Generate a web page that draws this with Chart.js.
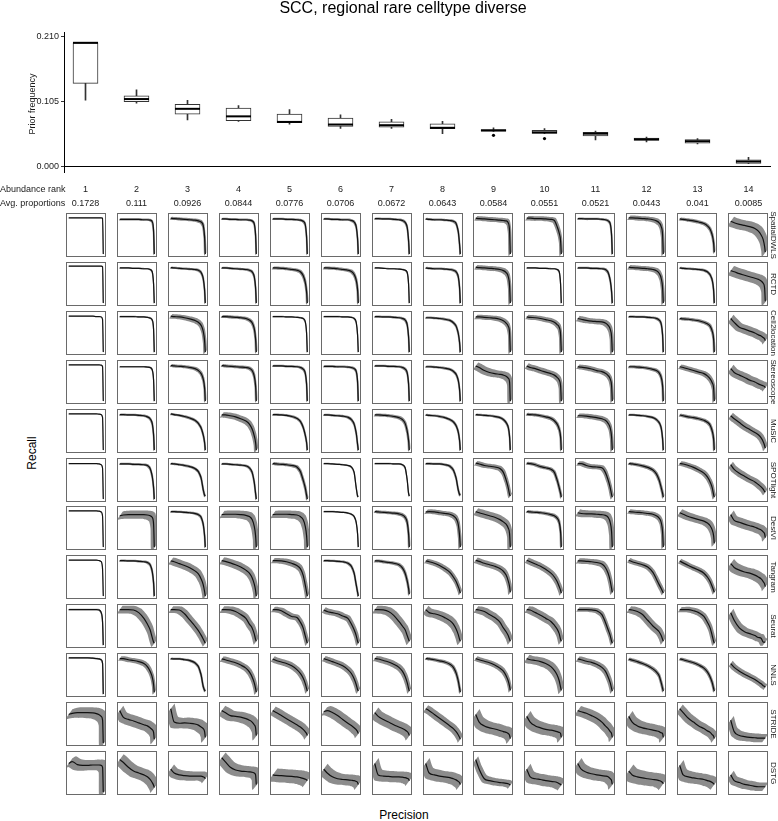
<!DOCTYPE html>
<html><head><meta charset="utf-8">
<script src="https://cdn.jsdelivr.net/npm/chart.js@4/dist/chart.umd.min.js"></script>
<style>
body{margin:0;width:778px;height:821px;position:relative;background:#fff;font-family:"Liberation Sans",Arial,Helvetica,sans-serif;overflow:hidden}
.t{position:absolute;white-space:nowrap;color:#1a1a1a}
.rot{text-align:center;transform-origin:50% 50%}
.panel{position:absolute;width:38px;height:42px;border:1px solid #6a6a6a}
.panel canvas{display:block}
#box{position:absolute;left:0;top:0}
</style></head><body>
<canvas id="box" width="778" height="180" style="width:778px;height:180px"></canvas>
<div class="t" style="left:0;width:806px;top:-1px;text-align:center;font-size:16px;color:#000">SCC, regional rare celltype diverse</div>
<div class="t rot" style="left:-28px;top:98px;width:120px;height:12px;line-height:12px;font-size:9px;transform:rotate(-90deg)">Prior frequency</div>
<div class="t" style="left:0;top:184px;font-size:9px">Abundance rank</div>
<div class="t" style="left:0;top:198px;font-size:9px">Avg. proportions</div>
<div class="t rot" style="left:-8px;top:446px;width:80px;height:14px;line-height:14px;font-size:12px;color:#000;transform:rotate(-90deg)">Recall</div>
<div class="t" style="left:354px;width:100px;top:808px;text-align:center;font-size:12px;color:#000">Precision</div>
<script>
// ---------------- data ----------------
const methods = ['SpatialDWLS','RCTD','Cell2location','Stereoscope','MuSiC','SPOTlight','DestVI','Tangram','Seurat','NNLS','STRIDE','DSTG'];
const abundanceRank = [1,2,3,4,5,6,7,8,9,10,11,12,13,14];
const avgProportions = [0.1728,0.111,0.0926,0.0844,0.0776,0.0706,0.0672,0.0643,0.0584,0.0551,0.0521,0.0443,0.041,0.0085];
const priorTicks = [0, 0.105, 0.21];
const priorQ1 = [0.135,0.1053,0.0852,0.0746,0.0714,0.0651,0.0640,0.0614,0.0576,0.0540,0.0497,0.0424,0.0381,0.0052];
const priorMedian = [0.2005,0.1095,0.0937,0.0815,0.0725,0.0683,0.0672,0.0630,0.0587,0.0556,0.0535,0.0444,0.0413,0.0084];
const priorQ3 = [0.2005,0.1148,0.1011,0.0948,0.0852,0.0789,0.0725,0.0694,0.0603,0.0587,0.0556,0.0465,0.0440,0.0111];
const priorWhiskerLow = [0.1075,0.1027,0.0757,0.0735,0.0688,0.0619,0.0619,0.0535,0.0570,0.0535,0.0433,0.0401,0.0370,0.0048];
const priorWhiskerHigh = [0.2005,0.1243,0.1075,0.0990,0.0926,0.0841,0.0767,0.0735,0.0630,0.0619,0.0576,0.0481,0.0455,0.0154];
const priorOutlierRank = [9,10];
const priorOutlierValue = [0.0508,0.0455];

const precisionGrid = [0,0.1,0.25,0.4,0.55,0.7,0.8,0.88,0.94,0.98,1];

const recallSpatialDWLS = [
[.95,.95,.95,.95,.95,.95,.95,.95,.95,.94,0],
[.91,.91,.91,.91,.91,.9,.9,.89,.85,.6,0],
[.94,.93,.92,.91,.9,.89,.87,.84,.75,.45,0],
[.92,.92,.91,.91,.9,.9,.89,.87,.8,.5,0],
[.92,.92,.92,.91,.91,.9,.89,.86,.78,.45,0],
[.92,.92,.91,.91,.9,.9,.88,.84,.72,.4,0],
[.93,.93,.92,.92,.91,.9,.88,.83,.7,.35,0],
[.92,.91,.9,.9,.89,.88,.86,.8,.6,.25,0],
[.94,.93,.92,.91,.9,.89,.88,.87,.82,.6,0],
[.94,.94,.93,.93,.92,.91,.88,.72,.55,.35,0],
[.93,.93,.92,.92,.92,.91,.9,.87,.8,.5,0],
[.95,.95,.94,.93,.92,.9,.87,.82,.72,.5,0],
[.92,.91,.89,.87,.84,.8,.74,.65,.5,.3,.05],
[.86,.82,.78,.75,.72,.67,.6,.5,.38,.2,.05]];
const ribbonSpatialDWLS = [.01,.03,.04,.03,.03,.03,.03,.03,.06,.06,.03,.06,.04,.12];

const recallRCTD = [
[.97,.97,.97,.97,.97,.97,.97,.97,.97,.95,0],
[.92,.92,.92,.91,.91,.9,.9,.88,.82,.5,0],
[.93,.92,.91,.9,.89,.88,.86,.8,.65,.35,0],
[.92,.92,.91,.9,.89,.88,.86,.82,.7,.4,0],
[.92,.92,.91,.9,.88,.86,.82,.72,.55,.3,0],
[.92,.92,.91,.9,.88,.86,.83,.75,.6,.35,0],
[.92,.92,.91,.9,.9,.89,.88,.86,.8,.5,0],
[.92,.91,.9,.9,.89,.88,.86,.82,.7,.4,0],
[.94,.93,.92,.91,.9,.88,.85,.8,.7,.45,0],
[.92,.92,.92,.91,.91,.9,.9,.88,.82,.5,0],
[.92,.92,.92,.91,.91,.9,.88,.8,.6,.3,0],
[.94,.93,.92,.91,.9,.88,.85,.78,.65,.4,0],
[.92,.91,.9,.89,.88,.86,.82,.74,.6,.35,0],
[.85,.82,.77,.73,.69,.65,.62,.58,.52,.4,.05]];
const ribbonRCTD = [.01,.02,.03,.03,.04,.04,.02,.03,.06,.02,.03,.06,.03,.12];

const recallCell2location = [
[.94,.94,.94,.94,.94,.94,.93,.93,.92,.85,0],
[.93,.93,.93,.93,.92,.92,.91,.89,.84,.6,0],
[.94,.93,.92,.9,.87,.83,.78,.7,.55,.3,0],
[.93,.93,.92,.91,.9,.88,.84,.77,.62,.35,0],
[.93,.93,.93,.92,.92,.91,.9,.88,.8,.5,0],
[.93,.93,.93,.93,.92,.92,.91,.88,.78,.45,0],
[.93,.93,.92,.92,.91,.9,.88,.84,.72,.4,0],
[.9,.9,.89,.88,.86,.83,.77,.68,.5,.25,0],
[.92,.92,.91,.9,.89,.86,.82,.76,.68,.5,0],
[.92,.91,.9,.88,.85,.82,.78,.72,.65,.45,0],
[.88,.86,.83,.81,.8,.79,.76,.7,.6,.4,0],
[.93,.93,.92,.92,.91,.9,.88,.84,.74,.45,0],
[.88,.87,.86,.84,.82,.78,.74,.68,.55,.35,0],
[.88,.78,.65,.6,.55,.5,.45,.42,.38,.35,.3]];
const ribbonCell2location = [.01,.02,.06,.04,.02,.02,.03,.03,.06,.06,.07,.03,.04,.1];

const recallStereoscope = [
[.95,.95,.95,.95,.95,.95,.95,.95,.94,.9,0],
[.9,.9,.9,.9,.9,.9,.89,.88,.82,.55,0],
[.93,.92,.91,.9,.88,.85,.8,.72,.58,.35,0],
[.93,.92,.91,.9,.89,.88,.86,.8,.66,.4,0],
[.92,.92,.92,.91,.91,.9,.88,.84,.74,.45,0],
[.91,.91,.91,.9,.9,.89,.88,.85,.78,.5,0],
[.92,.92,.92,.91,.91,.9,.88,.84,.74,.45,0],
[.9,.9,.89,.88,.86,.83,.78,.7,.55,.3,0],
[.92,.88,.8,.75,.72,.7,.68,.65,.6,.5,0],
[.92,.88,.85,.8,.76,.72,.68,.62,.55,.4,0],
[.9,.89,.87,.84,.8,.77,.73,.67,.58,.4,0],
[.9,.9,.89,.88,.86,.83,.8,.74,.62,.4,0],
[.9,.88,.84,.8,.76,.72,.66,.58,.48,.35,0],
[.85,.75,.68,.62,.55,.5,.45,.42,.4,.38,.35]];
const ribbonStereoscope = [.01,.02,.04,.04,.03,.03,.03,.03,.09,.07,.06,.04,.06,.1];

const recallMuSiC = [
[.95,.95,.95,.95,.95,.95,.95,.94,.93,.85,0],
[.93,.93,.92,.92,.91,.9,.87,.82,.7,.4,0],
[.95,.93,.91,.88,.84,.78,.7,.58,.4,.2,0],
[.92,.92,.9,.87,.82,.76,.68,.55,.38,.2,0],
[.93,.93,.92,.91,.88,.83,.75,.6,.4,.2,0],
[.92,.92,.91,.9,.89,.86,.8,.68,.45,.15,0],
[.92,.92,.91,.9,.88,.85,.8,.7,.5,.25,0],
[.92,.91,.9,.88,.85,.8,.74,.64,.48,.25,0],
[.93,.92,.91,.9,.88,.85,.8,.72,.6,.35,0],
[.94,.93,.92,.9,.87,.83,.77,.68,.55,.35,0],
[.9,.9,.89,.87,.85,.82,.78,.7,.58,.35,0],
[.92,.92,.91,.9,.88,.85,.8,.72,.58,.3,0],
[.92,.9,.87,.85,.82,.78,.73,.65,.5,.3,0],
[.9,.82,.72,.62,.54,.46,.4,.32,.22,.12,.05]];
const ribbonMuSiC = [.01,.03,.03,.07,.03,.03,.04,.03,.03,.04,.06,.03,.04,.08];

const recallSPOTlight = [
[.93,.93,.93,.93,.93,.93,.93,.92,.9,.8,0],
[.92,.92,.92,.91,.91,.9,.88,.8,.6,.3,0],
[.93,.92,.9,.88,.85,.8,.72,.55,.25,.1,.08],
[.92,.92,.91,.9,.89,.87,.82,.7,.45,.15,0],
[.93,.92,.91,.9,.88,.84,.72,.5,.3,.1,0],
[.93,.93,.92,.91,.9,.88,.84,.7,.3,.08,.06],
[.93,.93,.93,.93,.92,.92,.9,.82,.5,.15,.08],
[.93,.93,.92,.92,.9,.86,.76,.55,.25,.12,.1],
[.94,.92,.88,.86,.84,.8,.7,.5,.3,.12,.08],
[.94,.93,.9,.85,.82,.78,.7,.5,.3,.15,.05],
[.93,.93,.88,.85,.84,.82,.7,.5,.3,.12,.05],
[.93,.92,.9,.87,.83,.76,.66,.5,.3,.15,.05],
[.93,.92,.88,.83,.76,.68,.58,.45,.3,.12,.05],
[.9,.78,.68,.6,.52,.45,.38,.32,.26,.2,.18]];
const ribbonSPOTlight = [.01,.03,.03,.03,.04,.02,.02,.03,.06,.04,.06,.04,.06,.08];

const recallDestVI = [
[.95,.95,.95,.95,.95,.95,.95,.94,.92,.8,0],
[.82,.84,.85,.85,.85,.85,.84,.82,.78,.6,0],
[.93,.93,.92,.91,.9,.88,.85,.78,.6,.3,0],
[.85,.86,.86,.86,.85,.83,.8,.72,.55,.3,0],
[.85,.86,.86,.86,.85,.84,.8,.72,.55,.3,0],
[.93,.93,.93,.92,.91,.89,.86,.8,.65,.35,0],
[.93,.92,.91,.9,.89,.87,.84,.78,.65,.35,0],
[.92,.93,.92,.9,.88,.86,.82,.75,.6,.3,0],
[.93,.9,.86,.82,.78,.72,.66,.6,.5,.35,0],
[.93,.92,.91,.9,.88,.85,.82,.76,.65,.4,0],
[.9,.88,.87,.87,.86,.85,.83,.78,.65,.4,0],
[.93,.92,.91,.9,.88,.86,.82,.76,.65,.4,0],
[.9,.86,.8,.76,.72,.68,.63,.56,.45,.3,.1],
[.85,.7,.65,.6,.56,.52,.48,.45,.4,.35,.25]];
const ribbonDestVI = [.01,.11,.03,.1,.1,.02,.04,.06,.09,.04,.09,.06,.09,.11];

const recallTangram = [
[.94,.94,.94,.94,.94,.94,.94,.93,.9,.7,0],
[.93,.93,.92,.92,.91,.9,.88,.82,.65,.35,0],
[.92,.9,.85,.8,.74,.66,.58,.45,.3,.12,0],
[.93,.91,.87,.82,.76,.68,.6,.48,.32,.15,0],
[.93,.93,.92,.9,.86,.8,.72,.55,.3,.1,0],
[.93,.93,.92,.91,.9,.86,.78,.6,.3,.1,0],
[.92,.92,.9,.88,.86,.82,.74,.6,.4,.2,.05],
[.92,.9,.86,.8,.72,.62,.5,.38,.25,.15,.08],
[.94,.91,.86,.82,.78,.72,.65,.55,.4,.25,.1],
[.94,.9,.84,.78,.7,.6,.5,.38,.25,.15,.08],
[.92,.92,.91,.9,.88,.84,.75,.6,.4,.2,.1],
[.94,.9,.86,.82,.76,.62,.45,.3,.2,.12,.08],
[.92,.87,.8,.74,.68,.6,.5,.38,.25,.15,.1],
[.85,.75,.68,.63,.6,.55,.5,.45,.38,.32,.25]];
const ribbonTangram = [.01,.03,.09,.09,.07,.03,.04,.06,.07,.07,.07,.06,.06,.12];

const recallSeurat = [
[.93,.93,.93,.93,.93,.93,.93,.92,.85,.6,0],
[.93,.93,.93,.92,.85,.7,.55,.4,.2,.08,.05],
[.93,.93,.92,.82,.66,.5,.38,.26,.16,.09,.05],
[.93,.93,.92,.88,.8,.7,.55,.45,.3,.15,.1],
[.93,.93,.9,.82,.75,.72,.6,.45,.25,.12,.05],
[.92,.88,.85,.82,.76,.7,.55,.4,.25,.1,.05],
[.93,.93,.92,.88,.78,.62,.5,.4,.25,.15,.1],
[.93,.85,.82,.78,.72,.64,.55,.42,.28,.15,.1],
[.93,.92,.88,.8,.72,.6,.45,.35,.25,.15,.1],
[.93,.92,.85,.78,.7,.62,.52,.42,.3,.15,.1],
[.93,.93,.93,.92,.9,.8,.6,.4,.25,.1,.05],
[.93,.92,.88,.8,.65,.5,.42,.35,.25,.15,.1],
[.93,.93,.93,.9,.85,.75,.6,.45,.25,.1,.05],
[.85,.65,.45,.35,.3,.25,.2,.18,.08,.08,.08]];
const ribbonSeurat = [.02,.1,.09,.09,.07,.07,.1,.1,.09,.09,.06,.09,.07,.1];

const recallNNLS = [
[.95,.95,.95,.95,.95,.94,.93,.92,.9,.8,0],
[.93,.93,.9,.88,.85,.8,.72,.6,.45,.25,.05],
[.93,.92,.92,.9,.88,.82,.72,.5,.2,.1,.08],
[.92,.9,.86,.82,.76,.68,.58,.45,.3,.15,.05],
[.92,.88,.84,.8,.74,.64,.54,.42,.28,.15,.08],
[.93,.9,.85,.8,.74,.64,.54,.4,.25,.12,.08],
[.93,.92,.88,.84,.78,.7,.6,.46,.3,.15,.08],
[.93,.92,.9,.87,.84,.78,.7,.55,.35,.15,.05],
[.93,.9,.86,.82,.76,.68,.6,.48,.35,.2,.1],
[.93,.9,.88,.85,.8,.72,.62,.5,.35,.18,.1],
[.92,.9,.86,.83,.78,.7,.6,.45,.3,.15,.08],
[.92,.89,.85,.8,.74,.66,.58,.48,.3,.15,.08],
[.92,.9,.86,.82,.76,.68,.58,.45,.3,.15,.08],
[.8,.7,.6,.52,.45,.38,.32,.27,.22,.2,.18]];
const ribbonNNLS = [.02,.06,.03,.07,.07,.07,.07,.04,.06,.1,.07,.04,.04,.07];

const recallSTRIDE = [
[.75,.78,.8,.8,.8,.79,.77,.74,.7,.6,0],
[.85,.68,.62,.58,.53,.48,.45,.4,.35,.28,.1],
[.9,.55,.52,.53,.52,.5,.47,.42,.38,.3,.15],
[.85,.8,.72,.7,.68,.64,.6,.55,.48,.4,.2],
[.85,.8,.72,.64,.56,.48,.42,.36,.3,.25,.2],
[.82,.85,.8,.72,.62,.52,.46,.4,.35,.3,.25],
[.8,.7,.62,.55,.48,.42,.38,.34,.3,.25,.2],
[.9,.85,.75,.65,.55,.45,.38,.3,.22,.15,.1],
[.75,.55,.45,.4,.37,.33,.3,.28,.25,.2,.12],
[.7,.55,.45,.4,.36,.34,.32,.3,.28,.25,.15],
[.85,.82,.78,.72,.65,.55,.45,.38,.3,.25,.15],
[.7,.55,.45,.4,.37,.34,.32,.3,.27,.25,.15],
[.9,.8,.65,.55,.45,.38,.32,.28,.22,.18,.12],
[.6,.3,.2,.17,.15,.14,.13,.13,.13,.13,.13]];
const ribbonSTRIDE = [.14,.13,.14,.13,.11,.12,.13,.09,.14,.14,.12,.14,.11,.11];

const recallDSTG = [
[.75,.8,.72,.7,.7,.71,.71,.71,.7,.65,0],
[.85,.78,.65,.55,.5,.45,.4,.33,.25,.18,.12],
[.6,.5,.45,.43,.42,.42,.42,.42,.4,.38,.35],
[.9,.8,.65,.58,.55,.54,.53,.52,.5,.45,.2],
[.45,.44,.43,.42,.41,.4,.38,.36,.34,.32,.3],
[.6,.5,.4,.35,.33,.32,.31,.3,.28,.25,.2],
[.75,.45,.42,.41,.4,.4,.39,.38,.36,.34,.3],
[.75,.5,.45,.42,.4,.38,.35,.32,.28,.25,.2],
[.85,.6,.35,.3,.27,.25,.24,.23,.22,.2,.18],
[.6,.4,.35,.33,.3,.28,.27,.25,.22,.2,.18],
[.75,.6,.52,.48,.45,.43,.42,.4,.35,.3,.2],
[.55,.45,.4,.37,.35,.33,.32,.3,.28,.25,.22],
[.7,.45,.4,.37,.35,.33,.3,.28,.25,.22,.2],
[.45,.3,.25,.2,.18,.15,.14,.14,.14,.14,.14]];
const ribbonDSTG = [.14,.14,.12,.14,.17,.14,.14,.14,.09,.14,.14,.17,.14,.11];

const recallByMethod = [recallSpatialDWLS,recallRCTD,recallCell2location,recallStereoscope,recallMuSiC,recallSPOTlight,recallDestVI,recallTangram,recallSeurat,recallNNLS,recallSTRIDE,recallDSTG];
const ribbonByMethod = [ribbonSpatialDWLS,ribbonRCTD,ribbonCell2location,ribbonStereoscope,ribbonMuSiC,ribbonSPOTlight,ribbonDestVI,ribbonTangram,ribbonSeurat,ribbonNNLS,ribbonSTRIDE,ribbonDSTG];

// ---------------- drawing ----------------
const FONT = '"Liberation Sans", Arial, Helvetica, sans-serif';
Chart.defaults.font.family = FONT;
Chart.defaults.animation = false;

const medianPlugin = {
  id: 'medians',
  afterDatasetsDraw(chart) {
    const {ctx, scales: {x, y}} = chart;
    ctx.save();
    ctx.strokeStyle = '#000';
    ctx.lineWidth = 2;
    abundanceRank.forEach((r, i) => {
      const px = x.getPixelForValue(r), py = y.getPixelForValue(priorMedian[i]);
      ctx.beginPath(); ctx.moveTo(px - 12.5, py); ctx.lineTo(px + 12.5, py); ctx.stroke();
    });
    ctx.restore();
  }
};

const boxChart = new Chart(document.getElementById('box'), {
  type: 'bar',
  data: { datasets: [
    { type: 'bar', data: abundanceRank.map((r, i) => ({x: r, y: [priorWhiskerLow[i], priorWhiskerHigh[i]]})),
      backgroundColor: '#333', borderWidth: 0, barThickness: 1, grouped: false, order: 3 },
    { type: 'bar', data: abundanceRank.map((r, i) => ({x: r, y: [priorQ1[i], priorQ3[i]]})),
      backgroundColor: '#fff', borderColor: '#333', borderWidth: 1, borderSkipped: false, barThickness: 25, grouped: false, order: 2 },
    { type: 'scatter', data: priorOutlierRank.map((r, i) => ({x: r, y: priorOutlierValue[i]})),
      pointRadius: 1.6, backgroundColor: '#000', borderWidth: 0, order: 1 }
  ]},
  options: {
    responsive: false, animation: false, events: [],
    layout: { padding: { top: 32, bottom: 5, right: 7, left: 0 } },
    plugins: { legend: { display: false }, tooltip: { enabled: false } },
    scales: {
      x: { type: 'linear', display: false, offset: false, min: 0.5784, max: 14.4412 },
      y: { type: 'linear', min: -0.0095, max: 0.218,
        afterFit(s) { s.width = 64; },
        afterBuildTicks(s) { s.ticks = priorTicks.map(v => ({value: v})); },
        ticks: { callback: v => Number(v).toFixed(3), font: { size: 9 }, color: '#222', padding: 2 },
        grid: { color: c => (c.tick && c.tick.value === 0) ? '#000' : 'rgba(0,0,0,0)', tickColor: '#333', tickLength: 3, lineWidth: 1 },
        border: { display: true, color: '#000', width: 1 }
      }
    }
  },
  plugins: [medianPlugin]
});

function makePanel(canvas, ys, w) {
  const mean = precisionGrid.map((x, i) => ({x: x, y: ys[i]}));
  // ribbon: band above/right and below/left of the descending mean curve
  const upper = precisionGrid.map((x, i) => ({x: x + 0.8 * w, y: ys[i] + w}));
  const lower = precisionGrid.map((x, i) => ({x: x - 0.8 * w, y: ys[i] - w})).reverse();
  const band = upper.concat(lower);
  new Chart(canvas, {
    type: 'line',
    data: { datasets: [
      { data: mean, borderColor: '#111', borderWidth: 1.2, pointRadius: 0, fill: false, cubicInterpolationMode: 'monotone', order: 0 },
      { data: band, borderWidth: 0, pointRadius: 0, fill: 'shape', backgroundColor: '#8c8c8c', borderColor: 'rgba(0,0,0,0)', tension: 0.2, order: 1 }
    ]},
    options: {
      responsive: false, animation: false, events: [],
      layout: { padding: 0 },
      plugins: { legend: { display: false }, tooltip: { enabled: false } },
      scales: {
        x: { type: 'linear', display: false, min: -0.05, max: 1.05 },
        y: { type: 'linear', display: false, min: -0.05, max: 1.05 }
      }
    }
  });
}

const xs = boxChart.scales.x;
abundanceRank.forEach((rank, c) => {
  const cx = xs.getPixelForValue(rank);
  const a = document.createElement('div');
  a.className = 't'; a.style.cssText = 'left:' + (cx - 30) + 'px;width:60px;text-align:center;top:184px;font-size:9px';
  a.textContent = String(rank); document.body.appendChild(a);
  const b = document.createElement('div');
  b.className = 't'; b.style.cssText = 'left:' + (cx - 30) + 'px;width:60px;text-align:center;top:198px;font-size:9px';
  b.textContent = String(avgProportions[c]); document.body.appendChild(b);
});

methods.forEach((m, r) => {
  const top = Math.round(213 + r * 48.9);
  abundanceRank.forEach((rank, c) => {
    const cx = xs.getPixelForValue(rank);
    const div = document.createElement('div');
    div.className = 'panel';
    div.style.left = Math.round(cx - 20) + 'px';
    div.style.top = top + 'px';
    const cv = document.createElement('canvas');
    cv.width = 38; cv.height = 42; cv.style.width = '38px'; cv.style.height = '42px';
    div.appendChild(cv); document.body.appendChild(div);
    makePanel(cv, recallByMethod[r][c], ribbonByMethod[r][c]);
  });
  const lab = document.createElement('div');
  lab.className = 't rot';
  lab.style.cssText = 'left:' + (773 - 25) + 'px;top:' + (top + 22 - 5) + 'px;width:50px;height:10px;line-height:10px;font-size:8px;transform:rotate(90deg)';
  lab.textContent = m; document.body.appendChild(lab);
});
</script>
</body></html>
